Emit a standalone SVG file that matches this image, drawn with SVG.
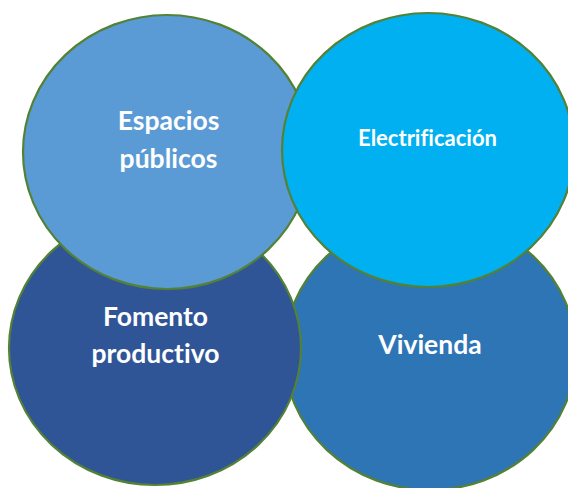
<svg xmlns="http://www.w3.org/2000/svg" width="568" height="488" viewBox="0 0 568 488">
  <style>
    .c { stroke: #538135; stroke-width: 2.2; }
    .t { font-family: Lato, "Open Sans", "Liberation Sans", sans-serif; font-weight: bold; fill: #FFFFFF; text-anchor: middle; font-variant-ligatures: none; }
  </style>
  <rect width="568" height="488" fill="#FFFFFF"/>
  <g id="connectors"></g>
  <g id="vivienda">
    <ellipse class="c" cx="430" cy="353" rx="146" ry="137" fill="#2E75B6"/>
    <text class="t" x="430" y="354" font-size="26.5">Vivienda</text>
  </g>
  <g id="fomento-productivo">
    <ellipse class="c" cx="155" cy="348" rx="146" ry="137" fill="#2F5597"/>
    <text class="t" x="155.5" y="326" font-size="26.5">Fomento</text>
    <text class="t" x="155.5" y="363" font-size="26.5">productivo</text>
  </g>
  <g id="espacios-publicos">
    <ellipse class="c" cx="167" cy="152" rx="144" ry="137" fill="#5B9BD5"/>
    <text class="t" x="168.5" y="130" font-size="26.5">Espacios</text>
    <text class="t" x="168.5" y="168" font-size="26.5">públicos</text>
  </g>
  <g id="electrificacion">
    <ellipse class="c" cx="428" cy="150" rx="146" ry="137" fill="#00B0F0"/>
    <text class="t" x="427.5" y="146" font-size="22">Electrificación</text>
  </g>
</svg>
